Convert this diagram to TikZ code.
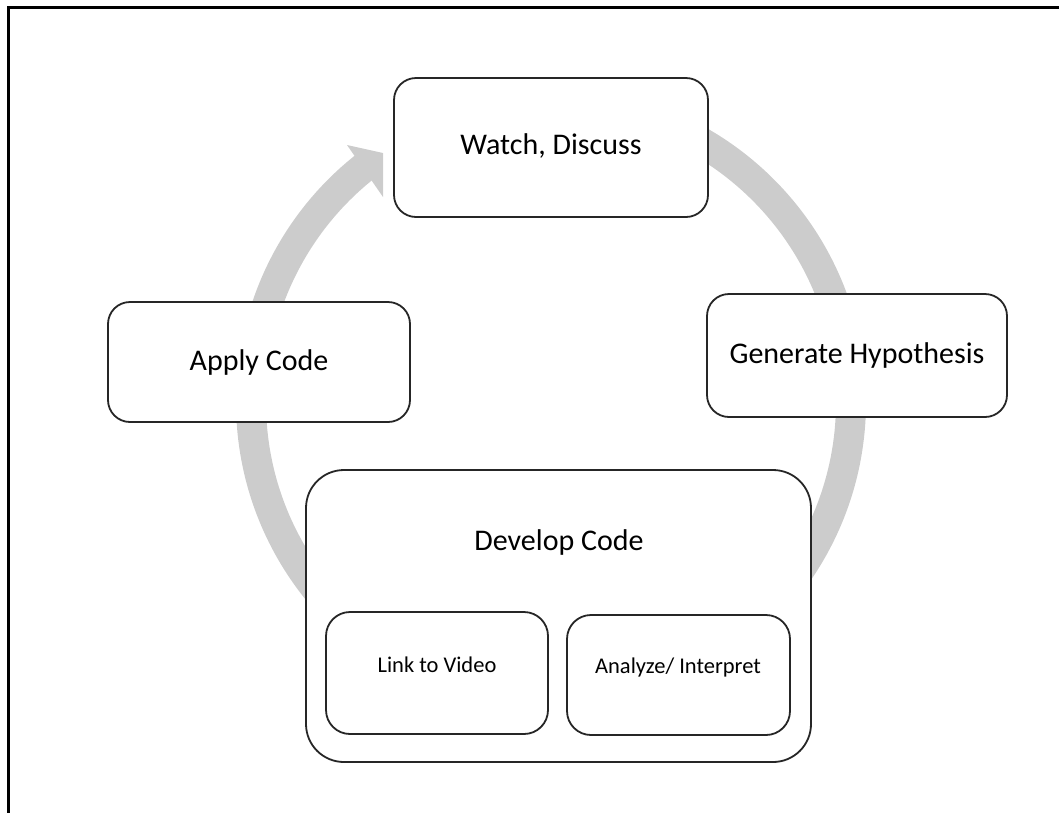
\documentclass[tikz,border=0pt]{standalone}
\usepackage{fontspec}
\setmainfont{Carlito}
\begin{document}
\begin{tikzpicture}[x=1pt,y=-1pt,
  frame/.style={draw=black, line width=3pt},
  ring/.style={draw=black!20, line width=30pt},
  head/.style={fill=black!20},
  box/.style={draw=black!85, line width=1.8pt, fill=white, rounded corners=22pt, inner sep=0pt},
  bigbox/.style={box, rounded corners=38pt},
  subbox/.style={box, rounded corners=24pt},
  bigtext/.style={font=\fontsize{30}{36}\selectfont, inner sep=0pt},
  smalltext/.style={font=\fontsize{22.5}{27}\selectfont, inner sep=0pt}]
\useasboundingbox (0,0) rectangle (1059,812);

% page frame (only the top and left edges fall inside the page)
\draw[frame] (8,830) -- (8,7) -- (1080,7);

% the cycle arrow running clockwise behind the boxes
\coordinate (c) at (551,402);
\draw[ring] (c) ++(-90:300) arc[start angle=-90, end angle=231.5, radius=300];
\coordinate (hb1) at (347,145);
\coordinate (htip) at (383,153);
\coordinate (hb2) at (383,197);
\fill[head] (hb1) -- (htip) -- (hb2) -- cycle;

% steps of the cycle
\node[box, minimum width=314pt, minimum height=139pt] (watch) at (551,147.5) {};
\node[bigtext] (watchtext) at (551,146) {Watch, Discuss};

\node[box, minimum width=302pt, minimum height=120pt] (apply) at (259,362) {};
\node[bigtext] (applytext) at (259,362) {Apply Code};

\node[box, minimum width=300pt, minimum height=123pt] (hyp) at (857,355.5) {};
\node[bigtext] (hyptext) at (857,355) {Generate Hypothesis};

\node[bigbox, minimum width=505pt, minimum height=292pt] (dev) at (558.5,616) {};
\node[bigtext] (devtext) at (559,542) {Develop Code};

\node[subbox, minimum width=222pt, minimum height=122pt] (link) at (437,673) {};
\node[smalltext] (linktext) at (437,665) {Link to Video};

\node[subbox, minimum width=223pt, minimum height=120pt] (anal) at (678.5,675) {};
\node[smalltext] (analtext) at (678,667) {Analyze/ Interpret};
\end{tikzpicture}
\end{document}
